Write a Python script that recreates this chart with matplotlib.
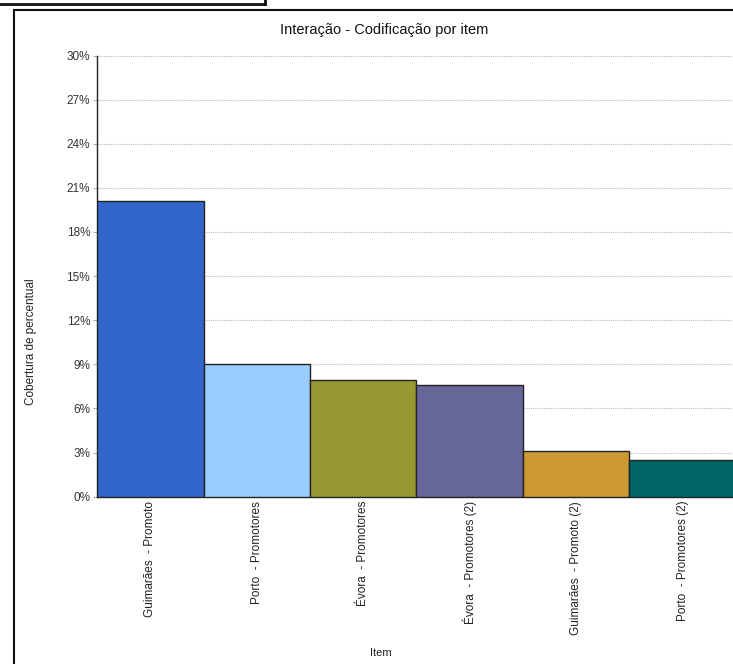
import matplotlib
matplotlib.use("Agg")
import matplotlib.pyplot as plt
from matplotlib.lines import Line2D

plt.rcParams["font.family"] = ["Liberation Sans", "DejaVu Sans"]

# --- Dados ---
items = [
    "Guimarães  - Promoto",
    "Porto  - Promotores",
    "Évora  - Promotores",
    "Évora  - Promotores (2)",
    "Guimarães  - Promoto (2)",
    "Porto  - Promotores (2)",
]
coverage = [20.1, 9.05, 7.93, 7.62, 3.1, 2.5]
bar_colors = ["#3366CC", "#99CCFF", "#999933", "#666699", "#CC9933", "#006666"]
y_ticks = list(range(0, 31, 3))

W, H = 733, 664
fig = plt.figure(figsize=(W / 100, H / 100), dpi=100)

# área dos eixos (em pixels da imagem)
left, right, top, bottom = 97, 736, 55.5, 496.7
ax = fig.add_axes([left / W, 1 - bottom / H, (right - left) / W, (bottom - top) / H])

x = list(range(len(items)))
ax.bar(x, coverage, width=1.0, color=bar_colors, edgecolor="#222222",
       linewidth=1.0, zorder=3)

ax.set_xlim(-0.5, len(items) - 0.5)
ax.set_ylim(0, 30)
ax.set_yticks(y_ticks)
ax.set_yticklabels([f"{t}%" for t in y_ticks], fontsize=8.5, color="#333333")
ax.set_xticks(x)
ax.set_xticklabels(items, rotation=90, fontsize=8.5, color="#222222")
ax.tick_params(axis="x", length=0, pad=3)
ax.tick_params(axis="y", length=3, width=0.6, color="#999999", pad=2)

ax.yaxis.grid(True, linestyle=(0, (1, 1)), color="#bbbbbb", linewidth=0.8, zorder=0)
ax.set_axisbelow(True)

for s in ["top", "right"]:
    ax.spines[s].set_visible(False)
ax.spines["left"].set_color("#222222")
ax.spines["left"].set_linewidth(1.0)
ax.spines["bottom"].set_color("#222222")
ax.spines["bottom"].set_linewidth(1.0)

# --- Textos ---
fig.text(384 / W, 1 - 30 / H, "Interação - Codificação por item",
         ha="center", va="center", fontsize=10.5, color="#111111")
fig.text(381 / W, 1 - 653 / H, "Item", ha="center", va="center",
         fontsize=8, color="#222222")
fig.text(31 / W, 1 - 342 / H, "Cobertura de percentual", ha="center",
         va="center", rotation=90, fontsize=8.5, color="#222222")

# --- Molduras ---
fig.add_artist(Line2D([14 / W, 14 / W], [0, 1 - 10 / H], transform=fig.transFigure,
                      color="#111111", linewidth=1.5))
fig.add_artist(Line2D([14 / W, 1], [1 - 10 / H, 1 - 10 / H], transform=fig.transFigure,
                      color="#111111", linewidth=1.5))
fig.add_artist(Line2D([0, 265 / W], [1 - 3.5 / H, 1 - 3.5 / H], transform=fig.transFigure,
                      color="#111111", linewidth=2))
fig.add_artist(Line2D([265 / W, 265 / W], [1 - 3.5 / H, 1], transform=fig.transFigure,
                      color="#111111", linewidth=2))

fig.savefig("out.png", dpi=100)
plt.close(fig)
